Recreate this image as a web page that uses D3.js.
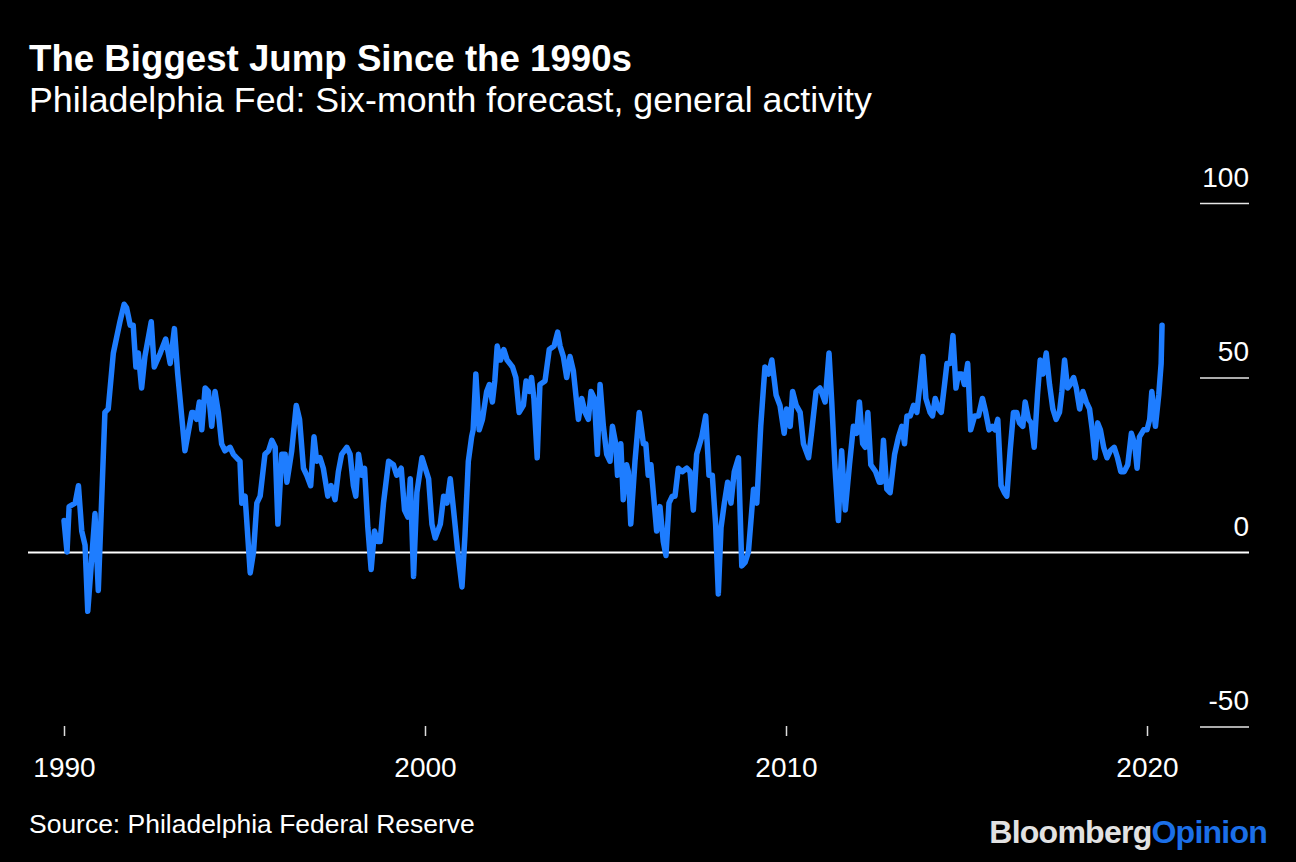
<!DOCTYPE html>
<html>
<head>
<meta charset="utf-8">
<script src="https://cdn.jsdelivr.net/npm/d3@7"></script>
<style>
  html, body { margin: 0; padding: 0; background: #000; }
  svg { display: block; }
  text { font-family: "Liberation Sans", Arial, Helvetica, sans-serif; }
</style>
</head>
<body>
<svg id="chart" width="1296" height="862"></svg>
<script>
// ---- Data (month offset from Jan 1990, index value) ----
const monthIdx = [
  0,1,1.7,3.7,4.8,5.9,7,7.9,9.2,10.3,11.4,13.6,14.7,16.4,18.6,20,20.8,22,23,23.9,24.7,25.8,26.9,29,30,32,33.8,35.3,36.7,37.8,40.2,42.5,
  43,44.1,45,45.8,46.9,48,49.1,50.2,51.3,52.4,53.5,55.2,56.3,57.4,58.5,59.1,60.2,61.9,63,64.1,65.2,66.8,68,69.1,70.2,71.1,72.4,73.5,74.1,75.7,77.2,78.3,79.6,80.7,82,83.1,84,85.1,86.2,
  87.7,88.8,90.1,91.2,92.3,94,95.1,96.2,97,97.9,99,99.9,101,102.1,103.2,104.3,105.1,106.2,107.9,109.5,110.6,112.1,113.2,114.3,115.1,116.2,117.3,119,120.1,121.2,122.3,123.4,125.1,126.2,127.3,128.4,129.5,130.9,132.3,
  133.3,134.4,135.5,136,136.9,138,139.1,140.5,141.4,142.4,143.2,144,145.1,146.2,147.3,149.1,150.2,151.3,152.7,153.6,154.7,155.4,156.2,157.3,158.2,159.9,161.3,162.9,164.1,164.9,166,167.1,168.2,169.3,171,172.1,173.2,174.3,175.2,176.3,177.3,178.2,
  179.3,180.4,181.5,182.3,183.4,184,185.1,185.9,187,187.6,188.4,189.8,191.2,192.6,193.4,194.2,195.1,195.9,197,198.1,199.2,200.1,201.1,202.2,203.1,204.2,205.5,207,208.1,209.2,210.3,212,213.3,214.4,215.5,216.6,217.5,218.4,219.5,220.6,221.7,222.8,
  224.2,225.3,226.4,227.5,229.2,230.3,231.6,233,234.2,235.3,236.7,238,239.4,240.2,241.4,242.2,243.4,244.7,245.8,247.5,248.6,250,251.3,253,254.3,255.2,256.3,257.4,258.5,259.7,261.1,262.4,263.5,264.4,265.5,266.3,267.2,268.2,
  269.8,271,271.6,272.4,273.5,274.6,276.1,277.4,278.5,279.4,280.2,281.3,282.4,283.5,284.4,285.5,286.5,287.9,288.7,289.6,290.7,291.6,292.7,293.5,294.6,295.5,296.5,297.3,298.4,299.3,300.4,301.4,302.7,304,305.3,306.4,307.5,308.6,309.5,310.4,311.5,
  312.6,313.4,314.5,315.6,316.7,317.6,318.7,319.5,320.6,321.5,322.5,323.6,324.5,325.4,326.5,327.6,328.7,329.8,330.9,331.7,332.6,333.6,334.5,335.6,336.5,337.6,338.7,339.8,340.9,341.8,342.7,343.6,344.5,345.6,346.7,347.8,349.1,350.2,351.3,352.4,353.6,354.8,355.9,356.7,357.5,358.9,360,360.9,361.6,362.8,363.9,364.7,365
];
const values = [
  9,0,13,14,19,6,2,-17,-2,11,-11,40,41,57,66,71,70,65,65,53,57,47,56,66,53,57,61,54,64,51,29,40,
  40,38,43,35,47,46,36,46,40,31,29,30,28,27,26,14,16,-6,0,14,16,28,29,32,30,8,28,28,20,29,42,38,24,22,19,33,26,27,24,
  16,19,15,23,28,30,28,19,16,28,22,24,7,-5,6,3,3,14,26,25,22,24,12,10,21,-7,17,27,24,21,8,4,8,16,14,21,12,0,-10,
  5,26,33,35,51,35,38,46,48,43,49,59,55,58,55,53,50,40,42,49,46,50,44,27,48,49,58,59,63,59,56,50,56,52,38,44,40,38,46,44,28,48,
  36,28,26,36,31,22,31,15,25,23,8,26,40,31,31,22,25,17,6,13,3,-1,14,16,16,24,23,24,23,12,28,33,39,22,22,8,-12,7,14,20,14,23,
  27,-4,-3,0,18,14,36,53,51,55,45,42,34,41,36,46,42,40,31,27,35,46,47,43,57,43,24,9,29,12,25,36,34,43,31,30,40,25,
  23,20,20,32,18,17,28,33,36,31,39,39,42,40,47,56,44,40,39,44,41,40,48,54,54,62,47,51,51,48,54,35,39,39,44,40,35,36,35,38,19,
  17,16,29,40,40,37,36,43,38,37,30,45,55,51,57,48,41,38,40,46,55,47,48,50,47,41,46,43,41,35,27,37,35,30,27,29,30,27,23,23,25,34,31,24,33,35,35,38,46,36,45,54,65
];
const startYear = 1990;
const xTicks = [1990, 2000, 2010, 2020];
const yTicks = [100, 50, 0, -50];

const titleText = "The Biggest Jump Since the 1990s";
const subtitleText = "Philadelphia Fed: Six-month forecast, general activity";
const sourceText = "Source: Philadelphia Federal Reserve";

// ---- Chart ----
const svg = d3.select("#chart");
svg.append("rect").attr("width", 1296).attr("height", 862).attr("fill", "#000");

const x = d3.scaleLinear().domain([1990, 2020]).range([64, 1147]);
const y = d3.scaleLinear().domain([-50, 100]).range([726.5, 203]);

function fitWidth(sel, target) {
  const w = sel.node().getComputedTextLength();
  const fs = parseFloat(sel.attr("font-size"));
  sel.attr("font-size", (fs * target / w).toFixed(2));
}

// Title & subtitle
const title = svg.append("text").attr("x", 29).attr("y", 71)
  .attr("font-size", 30).attr("font-weight", "bold").attr("fill", "#fff").text(titleText);
fitWidth(title, 603);
const sub = svg.append("text").attr("x", 29).attr("y", 112)
  .attr("font-size", 30).attr("fill", "#fff").text(subtitleText);
fitWidth(sub, 843);

// Y axis (right side, labels above short tick lines)
const yAxis = d3.axisRight(y).tickValues(yTicks).tickSize(0).tickFormat(d => String(d));
const yg = svg.append("g").attr("transform", "translate(1249,0)").call(yAxis);
yg.select(".domain").remove();
yg.selectAll(".tick text").attr("x", 0).attr("dy", -17).attr("text-anchor", "end")
  .attr("font-size", 28).attr("fill", "#fff")
  .style("font-family", '"Liberation Sans", Arial, sans-serif');
yg.selectAll(".tick line").attr("x1", -49).attr("x2", 0)
  .attr("stroke", "#e6e6e6").attr("stroke-width", 1.5);
yg.selectAll(".tick").filter(d => d === 0).select("line")
  .attr("x1", 28 - 1249).attr("stroke", "#fff").attr("stroke-width", 2);

// X axis
const xAxis = d3.axisBottom(x).tickValues(xTicks).tickSize(10).tickFormat(d => String(d));
const xg = svg.append("g").attr("transform", "translate(0,726)").call(xAxis);
xg.select(".domain").remove();
xg.selectAll(".tick line").attr("stroke", "#ddd").attr("stroke-width", 1.5);
xg.selectAll(".tick text").attr("y", 0).attr("dy", 51).attr("font-size", 28).attr("fill", "#fff")
  .style("font-family", '"Liberation Sans", Arial, sans-serif');

// Line
const pts = monthIdx.map((m, i) => ({ t: startYear + m / 12, v: values[i] }));
const line = d3.line().x(d => x(d.t)).y(d => y(d.v));
svg.append("path").datum(pts).attr("d", line)
  .attr("fill", "none").attr("stroke", "#1e7dff").attr("stroke-width", 5.5)
  .attr("stroke-linejoin", "round").attr("stroke-linecap", "round");

// Source
const src = svg.append("text").attr("x", 29).attr("y", 833)
  .attr("font-size", 24).attr("fill", "#fff").text(sourceText);
fitWidth(src, 446);

// Logo
const logo = svg.append("text").attr("x", 1267).attr("y", 843).attr("text-anchor", "end")
  .attr("font-size", 30).attr("font-weight", "bold").attr("letter-spacing", -0.8);
logo.append("tspan").attr("fill", "#e2e2e2").text("Bloomberg");
logo.append("tspan").attr("fill", "#1b6fe8").text("Opinion");
fitWidth(logo, 277);
</script>
</body>
</html>
